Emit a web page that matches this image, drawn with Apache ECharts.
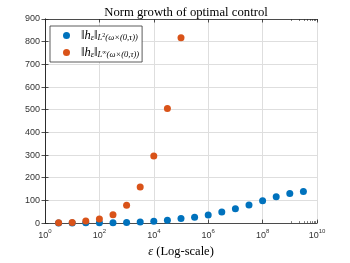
<!DOCTYPE html>
<html><head><meta charset="utf-8">
<script src="https://cdn.jsdelivr.net/npm/echarts@6/dist/echarts.min.js"></script>
<style>html,body{margin:0;padding:0;background:#fff}#c{width:350px;height:263px}</style>
</head><body><div id="c"></div>
<script>
// epsilon values (log-scale x)
const epsBlue = [3.162e0,1e1,3.162e1,1e2,3.162e2,1e3,3.162e3,1e4,3.162e4,1e5,3.162e5,1e6,3.162e6,1e7,3.162e7,1e8,3.162e8,1e9,3.162e9];
const l2Norm  = [0.2,0.5,1,1.5,2,3,5,8.5,12.5,20,26,36,49,63,80,99,116,130,139];
const epsOrange = [3.162e0,1e1,3.162e1,1e2,3.162e2,1e3,3.162e3,1e4,3.162e4,1e5];
const linfNorm  = [1,3,9,18,37,79,159,296,505,817];
const xTickExponents = [0,2,4,6,8,10];
const yTicks = [0,100,200,300,400,500,600,700,800,900];
const title = 'Norm growth of optimal control';
const xName = '{i|ε} (Log-scale)';

const serif = '"Liberation Serif","DejaVu Serif",serif';
const sans = '"Liberation Sans",Arial,sans-serif';
const chart = echarts.init(document.getElementById('c'), null, {renderer:'canvas'});
const axisCol = '#262626';
const gridCol = '#dedede';
const labCol = '#333';

const logAxis = (pos) => ({
  type:'log', logBase:10, min:1, max:1e10, position:pos,
  axisLine:{show:true,onZero:false,lineStyle:{color:axisCol,width:0.8}},
  axisTick:{show:true,inside:true,length:2,lineStyle:{color:axisCol,width:0.6}},
  minorTick:{show:true,splitNumber:9,length:2,lineStyle:{color:axisCol,width:0.6}},
  axisLabel:{show:false}, splitLine:{show:false}
});
const expAxis = (pos, labels) => ({
  type:'value', min:xTickExponents[0], max:xTickExponents[xTickExponents.length-1],
  interval:xTickExponents[1]-xTickExponents[0], position:pos,
  name: labels ? xName : '', nameLocation:'middle', nameGap:20,
  nameTextStyle:{fontFamily:serif,fontSize:12.5,color:'#000',
    rich:{i:{fontFamily:serif,fontStyle:'italic',fontSize:12.5,color:'#000'}}},
  axisLine:{show:false,onZero:false},
  axisTick:{show:true,inside:true,length:3.5,lineStyle:{color:axisCol,width:0.8}},
  splitLine:{show:labels,lineStyle:{color:gridCol,width:1}},
  axisLabel:{show:labels,margin:5,formatter:function(v){return '{b|10}{e|'+v+'}';},
    rich:{b:{fontFamily:sans,fontSize:9,color:labCol,verticalAlign:'bottom'},
          e:{fontFamily:sans,fontSize:6,color:labCol,verticalAlign:'bottom',padding:[0,0,6,0]}}}
});

chart.setOption({
  animation:false,
  title:{text:title, left:181, top:1, textAlign:'center',
    textStyle:{fontFamily:serif,fontWeight:'normal',fontSize:12.7,color:'#000'}},
  grid:{left:45,right:33,top:19,bottom:31,containLabel:false},
  legend:{
    left:50, top:26, orient:'vertical', itemGap:4, itemWidth:7, itemHeight:7,
    padding:[3,3,3,13], borderColor:'#333', borderWidth:0.8, backgroundColor:'#fff',
    icon:'circle',
    formatter:function(n){
      const sup = n==='L2' ? '2' : '∞';
      return '{a|‖}{i|h}{s|ε}{a|‖}{s|L}{p|'+sup+'}{s|(ω×(0,τ))}';
    },
    textStyle:{fontFamily:serif,color:'#000',padding:[0,0,0,6],
      rich:{
        a:{fontFamily:serif,fontSize:12.5,color:'#000',verticalAlign:'bottom'},
        i:{fontFamily:serif,fontStyle:'italic',fontSize:12.5,color:'#000',verticalAlign:'bottom'},
        s:{fontFamily:serif,fontStyle:'italic',fontSize:8.5,color:'#000',verticalAlign:'bottom'},
        p:{fontFamily:serif,fontSize:6,color:'#000',verticalAlign:'bottom',padding:[0,0,4,0]}
      }}
  },
  xAxis:[logAxis('bottom'), logAxis('top'), expAxis('bottom', true), expAxis('top', false)],
  yAxis:[{
    type:'value', min:yTicks[0], max:yTicks[yTicks.length-1], interval:yTicks[1]-yTicks[0],
    axisLine:{show:true,lineStyle:{color:axisCol,width:0.8}},
    axisTick:{show:true,inside:true,length:3.5,lineStyle:{color:axisCol,width:0.8}},
    splitLine:{show:true,lineStyle:{color:gridCol,width:1}},
    axisLabel:{fontFamily:sans,fontSize:9,color:labCol,margin:5}
  },{
    type:'value', min:yTicks[0], max:yTicks[yTicks.length-1], interval:yTicks[1]-yTicks[0], position:'right',
    axisLine:{show:true,lineStyle:{color:axisCol,width:0.8}},
    axisTick:{show:true,inside:true,length:3.5,lineStyle:{color:axisCol,width:0.8}},
    axisLabel:{show:false}, splitLine:{show:false}
  }],
  series:[
    {name:'L2',type:'scatter',xAxisIndex:0,symbolSize:7,itemStyle:{color:'#0072BD',opacity:1},
     data:epsBlue.map((x,i)=>[x,l2Norm[i]]), z:3},
    {name:'Linf',type:'scatter',xAxisIndex:0,symbolSize:7,itemStyle:{color:'#D95319',opacity:1},
     data:epsOrange.map((x,i)=>[x,linfNorm[i]]), z:4}
  ]
});
</script></body></html>
